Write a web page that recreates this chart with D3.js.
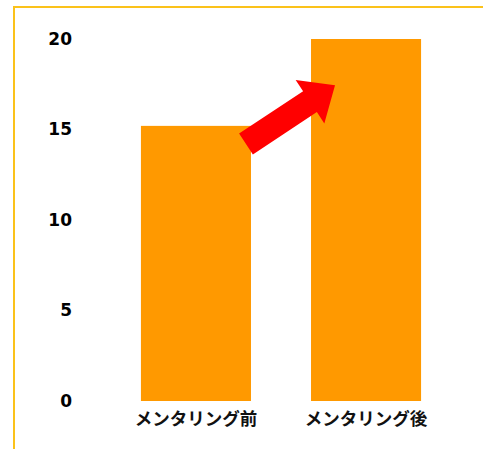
<!DOCTYPE html>
<html>
<head>
<meta charset="utf-8">
<script src="https://cdn.jsdelivr.net/npm/d3@7"></script>
<style>
  html, body { margin: 0; padding: 0; background: #fff; }
  svg { display: block; }
</style>
</head>
<body>
<svg id="chart" width="483" height="449"></svg>
<script>
// Mentoring score, before and after
const categories = ["メンタリング前", "メンタリング後"];
const values = [15.2, 20];
const tickValues = [0, 5, 10, 15, 20];

const svg = d3.select("#chart");
const W = 483, H = 449;

// Frame (runs off the right and bottom edges)
svg.append("rect")
  .attr("x", 14).attr("y", 7)
  .attr("width", W).attr("height", H)
  .attr("fill", "none")
  .attr("stroke", "#FBC21A")
  .attr("stroke-width", 2);

const x = d3.scaleBand()
  .domain(categories)
  .range([111, 451])
  .paddingInner(0.353)
  .paddingOuter(0.176);

const y = d3.scaleLinear()
  .domain([0, 20])
  .range([401, 39]);

// Y axis labels only
const yAxis = d3.axisLeft(y)
  .tickValues(tickValues)
  .tickSize(0)
  .tickPadding(0);
const gy = svg.append("g")
  .attr("transform", "translate(72,0)")
  .call(yAxis);
gy.select(".domain").remove();
gy.selectAll("text")
  .attr("font-family", "'DejaVu Sans', sans-serif")
  .attr("font-weight", "bold")
  .attr("font-size", 17)
  .attr("fill", "#000");

// Bars
svg.append("g").selectAll("rect")
  .data(values)
  .join("rect")
  .attr("x", (d, i) => x(categories[i]))
  .attr("y", d => y(d))
  .attr("width", x.bandwidth())
  .attr("height", d => y(0) - y(d))
  .attr("fill", "#FF9900");

// Category labels
const xAxis = d3.axisBottom(x).tickSize(0).tickPadding(0);
const gx = svg.append("g")
  .attr("transform", `translate(0,${y(0) + 12})`)
  .call(xAxis);
gx.select(".domain").remove();
gx.selectAll("text")
  .attr("font-family", "'Noto Sans CJK JP', sans-serif")
  .attr("font-weight", "bold")
  .attr("font-size", 17.5)
  .attr("fill", "#111");

// Rising arrow from the first bar toward the second
const tail = [x(categories[0]) + x.bandwidth() - 5, y(14.2)];
const tip = [x(categories[1]) + 24, y(17.45)];
const dx = tip[0] - tail[0], dy = tip[1] - tail[1];
const len = Math.hypot(dx, dy);
const ux = dx / len, uy = dy / len;     // along the arrow
const px = -uy, py = ux;                // across the arrow
const shaftHalf = 12.5, headHalf = 26, headLen = 30;
const neck = len - headLen;
const pt = (a, b) => [tail[0] + ux * a + px * b, tail[1] + uy * a + py * b];
const arrowPts = [
  pt(0, -shaftHalf), pt(neck, -shaftHalf), pt(neck, -headHalf),
  pt(len, 0),
  pt(neck, headHalf), pt(neck, shaftHalf), pt(0, shaftHalf)
];
svg.append("polygon")
  .attr("points", arrowPts.map(p => p.join(",")).join(" "))
  .attr("fill", "#FF0000");
</script>
</body>
</html>
